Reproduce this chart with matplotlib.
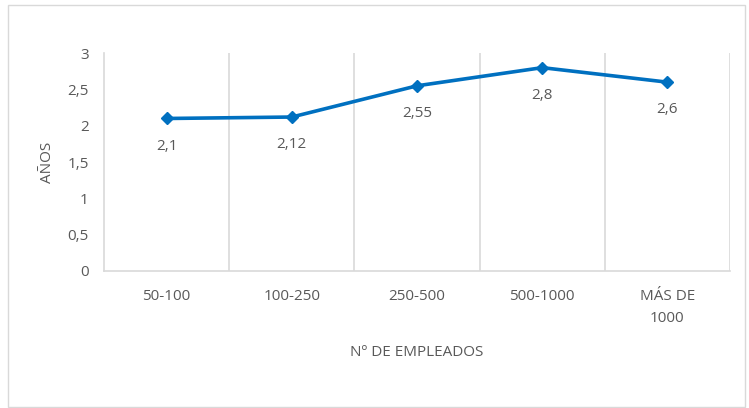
import matplotlib.pyplot as plt
from matplotlib.patches import Rectangle

plt.rcParams['font.family'] = ['Open Sans', 'DejaVu Sans']

categorias = ['50-100', '100-250', '250-500', '500-1000', 'MÁS DE\n1000']
anios = [2.1, 2.12, 2.55, 2.8, 2.6]
etiquetas = ['2,1', '2,12', '2,55', '2,8', '2,6']
yticks = [0, 0.5, 1, 1.5, 2, 2.5, 3]
yticklabels = ['0', '0,5', '1', '1,5', '2', '2,5', '3']

gris = '#595959'
azul = '#0070C0'

fig = plt.figure(figsize=(7.49, 4.08), dpi=100)
ax = fig.add_axes([0.1389, 0.3358, 0.8358, 0.534])

x = list(range(len(categorias)))
ax.plot(x, anios, color=azul, linewidth=2.6, marker='D', markersize=6.5, zorder=3)
for xi, yi, t in zip(x, anios, etiquetas):
    ax.annotate(t, (xi, yi), xytext=(0, -20), textcoords='offset points',
                ha='center', va='center', fontsize=11, color=gris)

ax.set_xlim(-0.5, len(categorias) - 0.5)
ax.set_ylim(0, 3)
ax.set_yticks(yticks)
ax.set_yticklabels(yticklabels, fontsize=11, color=gris)
ax.set_xticks(x)
ax.set_xticklabels(categorias, fontsize=11, color=gris, linespacing=1.6)
for lab in ax.get_xticklabels():
    lab.set_verticalalignment('top')
ax.tick_params(axis='both', length=0)
ax.tick_params(axis='x', pad=13)
ax.tick_params(axis='y', pad=11)

# separadores verticales entre categorias
for b in [0.5, 1.5, 2.5, 3.5, 4.5]:
    ax.axvline(b, color='#d9d9d9', linewidth=1.2, zorder=1)

for s in ['top', 'right']:
    ax.spines[s].set_visible(False)
ax.spines['left'].set_color('#d9d9d9')
ax.spines['bottom'].set_color('#d9d9d9')
ax.spines['left'].set_linewidth(1.2)
ax.spines['bottom'].set_linewidth(1.2)

ax.set_xlabel('Nº DE EMPLEADOS', fontsize=11, color=gris, labelpad=14)
ax.set_ylabel('AÑOS', fontsize=11, color=gris, labelpad=9)

# borde del grafico
fig.patches.append(Rectangle((8 / 749, 0.002), 737 / 749, 1 - 5 / 408 - 0.002,
                             transform=fig.transFigure, fill=False,
                             edgecolor='#d9d9d9', linewidth=1))

fig.savefig('out.png', dpi=100)
